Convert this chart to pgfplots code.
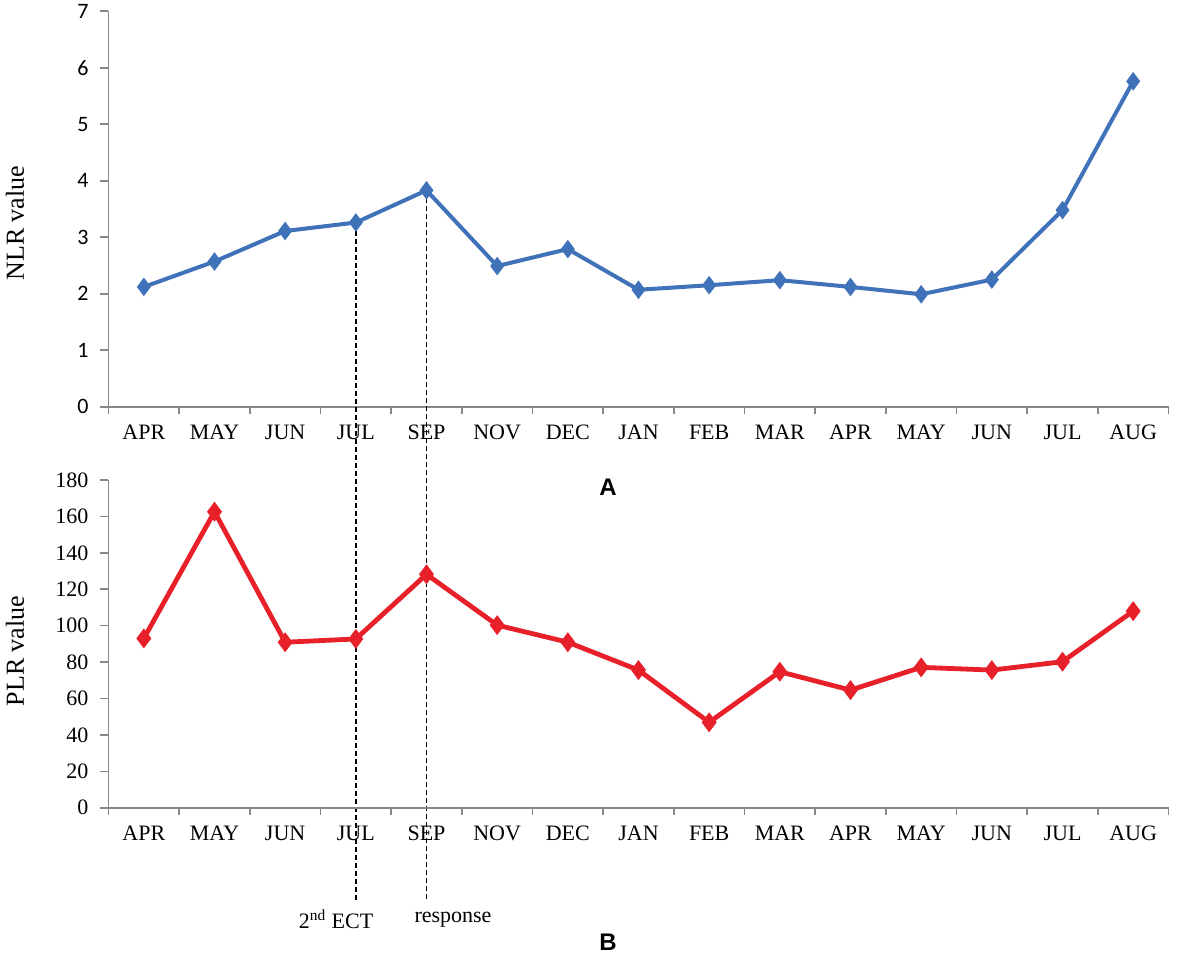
\documentclass[border=0pt]{standalone}
\usepackage{fontspec}
\setmainfont{Liberation Serif}
\newfontfamily\carlito{Carlito}
\newfontfamily\arialf{Liberation Sans}
\usepackage{pgfplots}
\pgfplotsset{compat=1.18}
\definecolor{nlrblue}{HTML}{3F72B8}
\definecolor{plrred}{HTML}{E8202A}
\definecolor{axgray}{HTML}{888888}
\pgfplotsset{
 base/.style={
  scale only axis, width=530pt,
  axis lines=left, axis line style={-, axgray, line width=0.8pt},
  xmin=-0.5, xmax=14.5,
  xtick={0,...,14},
  xticklabels={APR,MAY,JUN,JUL,SEP,NOV,DEC,JAN,FEB,MAR,APR,MAY,JUN,JUL,AUG},
  minor xtick={-0.5,0.5,...,14.5},
  tick align=outside,
  major x tick style={draw=none},
  minor x tick style={axgray, line width=0.8pt},
  minor tick length=3.5pt,
  major tick length=4pt,
  ytick style={axgray, line width=0.8pt},
  /pgf/number format/assume math mode=true,
  xticklabel style={font=\fontsize{11}{13}\selectfont, yshift=-1.5pt},
  clip=false,
 }
}
\begin{document}
\begin{tikzpicture}
\useasboundingbox (-54.25pt,-279.15pt) rectangle (536.25pt,203.35pt);
\begin{axis}[base, at={(0pt,0pt)}, anchor=south west,
  height=197.75pt, ymin=0, ymax=7, ytick={0,1,...,7},
  yticklabel style={font=\carlito\fontsize{11}{13}\selectfont, xshift=-2.5pt},
  ylabel={NLR value},
  ylabel style={at={(axis description cs:-0.0882,0.464)}, anchor=center, font=\fontsize{13}{15}\selectfont},
]
\addplot[nlrblue, line width=2pt, mark=diamond*, mark size=3pt, mark options={solid}]
 coordinates {(0,2.12) (1,2.57) (2,3.11) (3,3.26) (4,3.83) (5,2.49) (6,2.79) (7,2.07) (8,2.15) (9,2.24) (10,2.12) (11,1.99) (12,2.25) (13,3.48) (14,5.76)};
\draw[black, line width=0.75pt, dash pattern=on 2.5pt off 1.5pt] (axis cs:3,3.26) -- (axis cs:3,-8.73);
\draw[black, line width=0.75pt, dash pattern=on 2.5pt off 1.5pt] (axis cs:4,3.83) -- (axis cs:4,-8.73);
\node[font=\fontsize{11}{13}\selectfont] at (axis cs:2.72,-9.08) {2\textsuperscript{nd}\ ECT};
\node[font=\fontsize{11}{13}\selectfont] at (axis cs:4.375,-9.08) {response};
\node[font=\arialf\bfseries\fontsize{12}{14}\selectfont] at (axis cs:6.568,-1.42) {A};
\node[font=\arialf\bfseries\fontsize{12}{14}\selectfont] at (axis cs:6.568,-9.47) {B};
\end{axis}
\begin{axis}[base, at={(0pt,-200.5pt)}, anchor=south west,
  height=163.85pt, ymin=0, ymax=180, ytick={0,20,...,180},
  yticklabel style={font=\fontsize{11}{13}\selectfont, xshift=-2.5pt},
  ylabel={PLR value},
  ylabel style={at={(axis description cs:-0.0882,0.478)}, anchor=center, font=\fontsize{13}{15}\selectfont},
]
\addplot[plrred, line width=2.4pt, mark=diamond*, mark size=3pt, mark options={solid}]
 coordinates {(0,93) (1,162.6) (2,90.9) (3,92.7) (4,128.2) (5,100.3) (6,90.9) (7,75.6) (8,46.9) (9,74.7) (10,64.6) (11,77.1) (12,75.6) (13,80.2) (14,108.0)};
\end{axis}
\end{tikzpicture}
\end{document}
